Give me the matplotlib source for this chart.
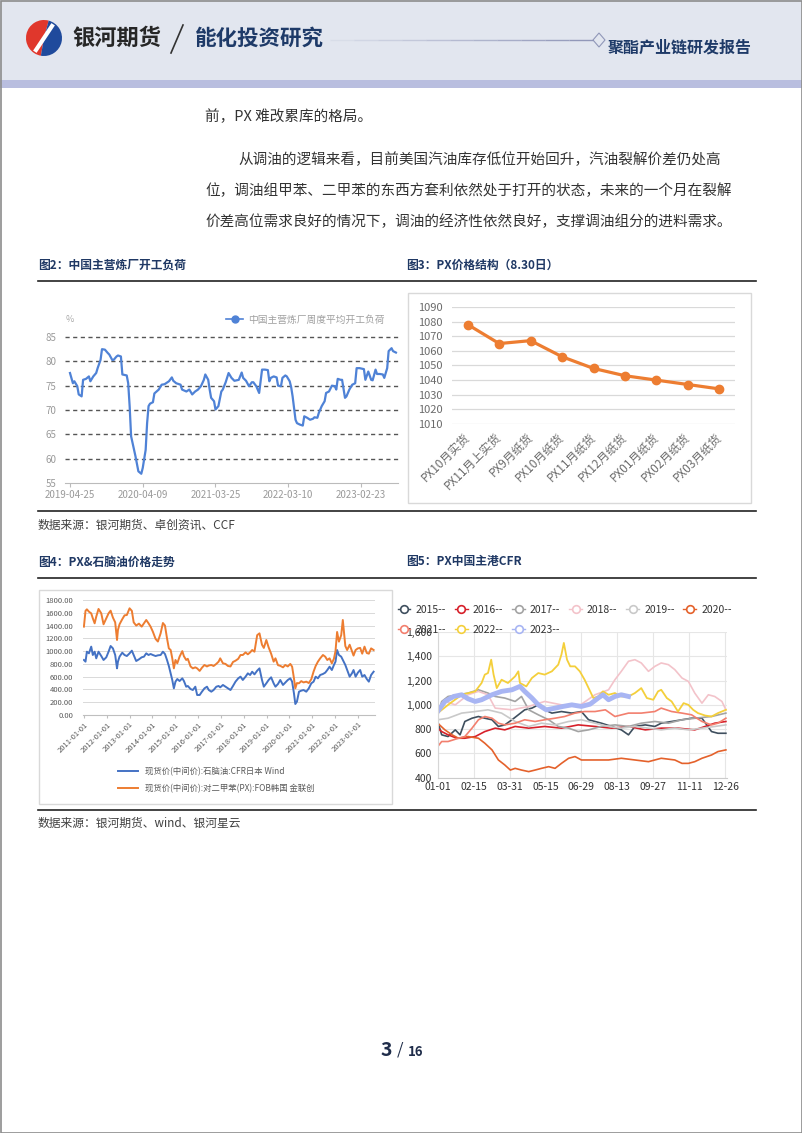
import numpy as np
import pandas as pd
import matplotlib
matplotlib.use("Agg")
import matplotlib.pyplot as plt
from matplotlib.patches import Rectangle, Wedge, Polygon
from matplotlib.lines import Line2D

plt.rcParams['font.family'] = ['Noto Sans CJK SC', 'DejaVu Sans']

W, H = 802, 1133

# 图2 中国主营炼厂开工负荷 (周度, 从2019-04-25起的周数)
run_weeks = [0, 2, 3, 5, 6, 8, 9, 11, 13, 14, 16, 18, 19, 21, 22, 24, 26, 27, 29, 30,
             32, 33, 35, 36, 39, 40, 41, 42, 45, 47, 49, 50, 52, 53, 54, 55, 57, 58, 61, 63,
             65, 68, 70, 71, 73, 76, 77, 80, 82, 84, 86, 88, 90, 92, 93, 95, 96, 97, 99, 100,
             102, 104, 105, 107, 109, 111, 113, 116, 118, 119, 121, 123, 125, 126, 128, 130, 132, 134, 136, 137,
             138, 140, 142, 143, 145, 146, 148, 149, 151, 152, 153, 155, 156, 158, 160, 161, 163, 165, 167, 168,
             170, 171, 173, 175, 176, 178, 180, 182, 183, 184, 186, 187, 189, 190, 192, 194, 196, 197, 199, 202,
             203, 205, 207, 208, 210, 211, 213, 215, 216, 218, 219, 221, 222, 224]
run_rate = [77.6, 75.5, 75.9, 74.9, 73.2, 72.8, 76.2, 76.4, 76.9, 75.9, 76.9, 77.6, 78.6, 80.3, 82.5, 82.4, 81.7, 81.4, 80.3, 80.3,
            81.0, 81.2, 81.0, 77.3, 77.1, 75.5, 70.8, 64.6, 60.5, 57.4, 56.9, 58.1, 61.8, 67.3, 70.8, 71.3, 71.6, 73.4, 74.2, 75.2,
            75.3, 75.9, 76.7, 76.0, 75.5, 75.2, 74.2, 73.8, 74.2, 73.2, 73.8, 74.2, 74.9, 76.2, 77.3, 76.2, 74.2, 72.5, 71.8, 70.1,
            70.8, 73.8, 74.2, 75.7, 77.6, 76.6, 76.0, 76.2, 77.7, 76.6, 76.0, 74.9, 75.7, 75.7, 74.9, 73.5, 78.3, 78.3, 78.2, 75.9,
            76.6, 76.9, 76.7, 75.0, 74.9, 76.6, 77.1, 76.9, 75.9, 74.7, 72.8, 68.0, 67.3, 67.0, 66.8, 68.7, 68.4, 68.0, 68.2, 68.5,
            68.4, 69.4, 70.8, 71.8, 73.5, 73.8, 75.0, 74.9, 74.2, 76.4, 76.2, 76.2, 72.5, 72.8, 74.2, 75.2, 75.5, 78.6, 78.6, 78.4,
            76.2, 77.9, 76.2, 76.1, 78.3, 77.4, 77.4, 77.3, 76.6, 78.6, 82.1, 82.7, 82.1, 81.8]
run_ticks = ['2019-04-25', '2020-04-09', '2021-03-25', '2022-03-10', '2023-02-23']

# 图3 PX价格结构
px_labels = ['PX10月实货', 'PX11月上实货', 'PX9月纸货', 'PX10月纸货', 'PX11月纸货',
             'PX12月纸货', 'PX01月纸货', 'PX02月纸货', 'PX03月纸货']
px_prices = [1078, 1065, 1067, 1056, 1048, 1043, 1040, 1037, 1034]

# 图4 PX&石脑油价格走势
years4 = [2011.00, 2011.07, 2011.13, 2011.22, 2011.32, 2011.39, 2011.47, 2011.54, 2011.64, 2011.76,
          2011.86, 2011.98, 2012.08, 2012.17, 2012.27, 2012.37, 2012.45, 2012.49, 2012.56, 2012.68,
          2012.78, 2012.88, 2013.00, 2013.10, 2013.18, 2013.29, 2013.41, 2013.53, 2013.63, 2013.73,
          2013.83, 2013.92, 2014.02, 2014.14, 2014.24, 2014.36, 2014.46, 2014.55, 2014.64, 2014.72,
          2014.80, 2014.87, 2014.94, 2015.01, 2015.09, 2015.19, 2015.31, 2015.38, 2015.48, 2015.55,
          2015.67, 2015.77, 2015.88, 2015.96, 2016.07, 2016.17, 2016.28, 2016.39, 2016.47, 2016.58,
          2016.68, 2016.80, 2016.90, 2016.97, 2017.09, 2017.20, 2017.31, 2017.42, 2017.53, 2017.64,
          2017.76, 2017.86, 2017.96, 2018.08, 2018.18, 2018.28, 2018.37, 2018.47, 2018.59, 2018.69,
          2018.80, 2018.88, 2018.99, 2019.09, 2019.20, 2019.31, 2019.39, 2019.50, 2019.60, 2019.72,
          2019.82, 2019.93, 2020.04, 2020.12, 2020.20, 2020.26, 2020.33, 2020.42, 2020.52, 2020.62,
          2020.74, 2020.85, 2020.96, 2021.06, 2021.15, 2021.25, 2021.35, 2021.47, 2021.57, 2021.66,
          2021.76, 2021.86, 2021.95, 2022.02, 2022.09, 2022.17, 2022.27, 2022.34, 2022.45, 2022.53,
          2022.64, 2022.74, 2022.81, 2022.90, 2023.00, 2023.10, 2023.19, 2023.29, 2023.39, 2023.48,
          2023.58, 2023.69]
naphtha = [861, 835, 991, 965, 1070, 939, 991, 887, 991, 923, 861, 903, 991, 1080, 1043, 939, 730, 835, 913, 975,
           939, 923, 965, 1007, 939, 845, 871, 903, 913, 965, 939, 955, 939, 923, 934, 939, 991, 955, 861, 767,
           652, 548, 417, 522, 563, 532, 574, 532, 443, 454, 407, 391, 443, 313, 313, 365, 417, 443, 391, 365,
           391, 443, 454, 433, 470, 443, 417, 391, 454, 522, 574, 600, 548, 600, 652, 626, 678, 636, 694, 730,
           548, 443, 496, 548, 590, 496, 443, 485, 548, 470, 506, 548, 574, 522, 339, 172, 209, 365, 381, 391,
           365, 417, 496, 522, 600, 574, 626, 642, 663, 704, 756, 704, 783, 835, 1017, 939, 913, 861, 783, 704,
           600, 652, 704, 600, 663, 704, 600, 626, 563, 522, 626, 678]
px_fob = [1383, 1630, 1654, 1617, 1591, 1513, 1435, 1539, 1660, 1591, 1420, 1513, 1591, 1633, 1525, 1450, 1174, 1330, 1420, 1500,
          1560, 1565, 1670, 1630, 1450, 1400, 1430, 1383, 1435, 1487, 1435, 1383, 1304, 1190, 1150, 1278, 1440, 1400, 1200, 1043,
          1017, 887, 730, 861, 809, 913, 1000, 920, 861, 880, 760, 730, 746, 730, 690, 740, 783, 760, 775, 783,
          767, 800, 835, 887, 809, 800, 767, 760, 830, 850, 880, 939, 939, 980, 950, 980, 1017, 991, 1250, 1278,
          1100, 1050, 1174, 1060, 960, 835, 887, 780, 770, 746, 783, 760, 800, 756, 574, 417, 500, 496, 530, 510,
          522, 500, 560, 680, 767, 835, 887, 939, 913, 861, 887, 809, 880, 1000, 1300, 1148, 1250, 1487, 1080, 1017,
          1100, 1000, 930, 1017, 1043, 1050, 960, 1070, 970, 960, 1043, 1017]

# 图5 PX中国主港CFR (x = 一年中的第几天)
d2015 = [0, 5, 13, 22, 28, 34, 43, 51, 59, 68, 76, 84, 93, 101, 109, 118, 126, 134, 143, 155,
         168, 180, 189, 197, 205, 218, 230, 239, 247, 260, 272, 280, 293, 306, 318, 331, 343, 351, 361]
v2015 = [863, 753, 739, 794, 753, 863, 890, 904, 890, 877, 822, 835, 877, 918, 959, 973, 1000, 959, 932, 945,
         932, 945, 877, 863, 849, 822, 794, 753, 822, 835, 822, 849, 863, 877, 890, 890, 780, 766, 766]
d2016 = [0, 5, 13, 24, 34, 47, 59, 72, 84, 97, 114, 134, 155, 176, 197, 218, 239, 260, 280, 301, 322, 335, 347, 361]
v2016 = [808, 780, 753, 725, 725, 739, 780, 808, 794, 822, 808, 822, 808, 835, 822, 808, 822, 794, 808, 808, 794, 822, 849, 863]
d2017 = [0, 5, 13, 26, 38, 51, 63, 72, 84, 97, 105, 114, 126, 139, 151, 164, 176, 189, 205, 222,
         239, 255, 272, 289, 306, 322, 343, 361]
v2017 = [918, 1028, 1069, 1083, 1097, 1124, 1097, 1069, 1056, 1028, 1069, 959, 918, 877, 822, 808, 780, 794, 822, 835,
         822, 849, 863, 849, 877, 890, 904, 932]
d2018 = [0, 9, 22, 38, 51, 63, 72, 93, 114, 134, 155, 176, 197, 214, 222, 230, 239, 247, 255, 264,
         272, 280, 289, 297, 306, 314, 322, 331, 339, 347, 356, 361]
v2018 = [932, 1028, 1000, 1083, 1111, 1083, 973, 959, 987, 1028, 1000, 987, 1083, 1124, 1207, 1276, 1359, 1372, 1345, 1276,
         1317, 1345, 1331, 1290, 1221, 1193, 1097, 1014, 1083, 1069, 1028, 959]
d2019 = [0, 13, 30, 47, 63, 80, 97, 114, 130, 147, 164, 180, 197, 214, 230, 247, 264, 280, 297, 314, 331, 347, 361]
v2019 = [877, 890, 932, 945, 959, 932, 863, 822, 849, 835, 863, 877, 849, 822, 808, 822, 808, 794, 808, 794, 808, 822, 835]
d2020 = [0, 9, 18, 26, 38, 51, 59, 68, 76, 84, 91, 97, 105, 114, 122, 130, 139, 147, 155, 164,
         172, 180, 197, 214, 230, 247, 264, 280, 297, 306, 314, 322, 331, 343, 351, 361]
v2020 = [849, 794, 753, 725, 739, 725, 684, 629, 546, 505, 463, 477, 463, 450, 463, 477, 491, 477, 518, 560,
         574, 546, 546, 546, 560, 546, 532, 560, 546, 518, 518, 532, 560, 587, 615, 629]
d2021 = [0, 5, 13, 26, 34, 43, 51, 59, 68, 76, 84, 97, 109, 122, 134, 147, 159, 172, 184, 197,
         210, 222, 239, 255, 272, 280, 293, 306, 318, 331, 343, 351, 361]
v2021 = [656, 698, 698, 725, 739, 808, 877, 904, 890, 849, 835, 849, 877, 863, 877, 890, 904, 932, 945, 945,
         959, 904, 932, 932, 945, 973, 945, 932, 918, 863, 835, 849, 890]
d2022 = [0, 13, 30, 47, 55, 59, 63, 67, 70, 74, 80, 88, 97, 101, 103, 111, 118, 126, 134, 143,
         151, 155, 158, 162, 166, 172, 178, 184, 191, 195, 201, 207, 214, 222, 230, 239, 247, 255, 262, 270,
         276, 280, 287, 293, 301, 308, 314, 320, 326, 335, 343, 351, 361]
v2022 = [932, 1000, 1083, 1111, 1180, 1249, 1262, 1372, 1249, 1138, 1207, 1180, 1235, 1276, 1180, 1152, 1221, 1262, 1249, 1276,
         1331, 1414, 1510, 1372, 1317, 1317, 1276, 1207, 1111, 1056, 1069, 1111, 1083, 1097, 1069, 1069, 1097, 1138, 1056, 1042,
         1111, 1124, 1056, 1028, 945, 1014, 1000, 959, 932, 912, 904, 932, 959]
d2023 = [0, 9, 20, 30, 38, 47, 55, 68, 80, 93, 103, 109, 118, 126, 136, 147, 157, 168, 180, 191,
         201, 207, 214, 222, 230, 239]
v2023 = [945, 1028, 1069, 1083, 1050, 1028, 1042, 1083, 1111, 1124, 1152, 1111, 1056, 1000, 959, 973, 987, 1000, 987, 1006,
         1056, 1083, 1042, 1069, 1083, 1069]
cfr_ticks = ['01-01', '02-15', '03-31', '05-15', '06-29', '08-13', '09-27', '11-11', '12-26']


def rect(x0, y0, x1, y1):
    return [x0 / W, 1 - y1 / H, (x1 - x0) / W, (y1 - y0) / H]


fig = plt.figure(figsize=(W / 100, H / 100), dpi=100)
page = fig.add_axes([0, 0, 1, 1])
page.set_xlim(0, W)
page.set_ylim(H, 0)
page.axis('off')

# 页眉
page.add_patch(Rectangle((0, 0), W, 80, color='#e2e6ef', lw=0))
page.add_patch(Rectangle((0, 80), W, 8, color='#b9bedf', lw=0))
page.add_patch(Rectangle((0.5, 0.5), W - 1, H - 1, fill=False, ec='#8c8c8c', lw=1.2))
page.add_patch(Wedge((44, 38), 18, 100, 285, color='#e0372c', lw=0))
page.add_patch(Wedge((44, 38), 18, 285, 460, color='#1f4a9c', lw=0))
page.plot([36, 44, 52], [50, 38, 26], color='white', lw=3)
page.text(72, 38, '银河期货', fontsize=16, fontweight='bold', color='#262626', va='center')
page.plot([171, 183], [53, 25], color='#333333', lw=1.2)
page.text(195, 38, '能化投资研究', fontsize=15.5, fontweight='bold', color='#1e3a68', va='center')
xs = np.linspace(330, 593, 12)
for i in range(len(xs) - 1):
    page.plot(xs[i:i + 2], [40, 40], color='#8990b4', lw=1, alpha=0.1 + 0.08 * i, solid_capstyle='butt')
page.add_patch(Polygon([(599, 33), (605, 40), (599, 47), (593, 40)], fill=False, ec='#9097b8', lw=0.8))
page.text(608, 48, '聚酯产业链研发报告', fontsize=11.5, fontweight='bold', color='#1e3a68', va='center')

# 正文
body = dict(fontsize=10.5, color='#333333', va='center')
page.text(205, 117, '前，PX 难改累库的格局。', **body)
page.text(238, 160, '从调油的逻辑来看，目前美国汽油库存低位开始回升，汽油裂解价差仍处高', **body)
page.text(205, 191, '位，调油组甲苯、二甲苯的东西方套利依然处于打开的状态，未来的一个月在裂解', **body)
page.text(205, 222, '价差高位需求良好的情况下，调油的经济性依然良好，支撑调油组分的进料需求。', **body)

title = dict(fontsize=8.5, fontweight='bold', color='#1f3864', va='center')
page.text(38, 265, '图2：中国主营炼厂开工负荷', **title)
page.text(406, 265, '图3：PX价格结构（8.30日）', **title)
page.text(38, 562, '图4：PX&石脑油价格走势', **title)
page.text(406, 562, '图5：PX中国主港CFR', **title)
for y in [281, 511, 578, 810]:
    page.plot([38, 756], [y, y], color='#222222', lw=1.2)
src = dict(fontsize=8.5, color='#404040', va='center')
page.text(38, 525, '数据来源：银河期货、卓创资讯、CCF', **src)
page.text(38, 823, '数据来源：银河期货、wind、银河星云', **src)

page.text(392, 1050, '3', fontsize=14, fontweight='bold', color='#1f2d4a', ha='right', va='center')
page.text(400, 1050, '/', fontsize=12, color='#1f2d4a', ha='center', va='center')
page.text(408, 1052, '16', fontsize=9.5, fontweight='bold', color='#1f2d4a', ha='left', va='center')

# 图2
ax2 = fig.add_axes(rect(65, 337, 398, 483))
start = pd.Timestamp('2019-04-25')
dates2 = start + pd.to_timedelta(np.array(run_weeks) * 7, unit='D')
ax2.plot(dates2, run_rate, color='#4f82d6', lw=1.6)
ax2.set_ylim(55, 85)
ax2.set_xlim(start - pd.Timedelta(days=24), start + pd.Timedelta(days=1578))
for v in [60, 65, 70, 75, 80, 85]:
    ax2.axhline(v, color='#555555', lw=1, ls=(0, (3, 2.5)), clip_on=False, zorder=0)
ax2.set_yticks([55, 60, 65, 70, 75, 80, 85])
ax2.set_xticks(pd.to_datetime(run_ticks), labels=run_ticks)
for s in ['top', 'right', 'left']:
    ax2.spines[s].set_visible(False)
ax2.spines['bottom'].set_color('#bbbbbb')
ax2.tick_params(axis='y', length=0, pad=6, labelsize=7, labelcolor='#9a9a9a')
ax2.tick_params(axis='x', length=3, color='#bbbbbb', pad=2, labelsize=7, labelcolor='#9a9a9a')
ax2.patch.set_alpha(0)
page.text(66, 320, '%', fontsize=6.5, color='#aaaaaa', va='center')
h2 = Line2D([], [], color='#4f82d6', lw=1.2, marker='o', ms=5)
ax2.legend([h2], ['中国主营炼厂周度平均开工负荷'], loc='center right', bbox_to_anchor=(0.96, 1.12),
           frameon=False, fontsize=7, labelcolor='#a0a0a0', handlelength=1.8, handletextpad=0.5,
           borderpad=0, borderaxespad=0)

# 图3
page.add_patch(Rectangle((408, 293), 343, 210, fill=False, ec='#d9d9d9', lw=1))
ax3 = fig.add_axes(rect(452, 307, 735, 424))
x3 = np.arange(len(px_labels))
ax3.plot(x3, px_prices, color='#ed7d31', lw=2.3, marker='o', ms=6, zorder=3)
ax3.set_xlim(-0.5, len(px_labels) - 0.5)
ax3.set_ylim(1010, 1090)
ax3.set_yticks(range(1010, 1091, 10))
ax3.set_xticks(x3, labels=px_labels, rotation=45, ha='right', va='center', rotation_mode='anchor')
ax3.grid(axis='y', color='#d9d9d9', lw=0.9)
for s in ax3.spines.values():
    s.set_visible(False)
ax3.tick_params(length=0, labelsize=8.5, labelcolor='#6b6b6b')
ax3.tick_params(axis='y', pad=7, labelsize=8)
ax3.tick_params(axis='x', pad=8)

# 图4
page.add_patch(Rectangle((39, 590), 353, 214, fill=False, ec='#d9d9d9', lw=1))
ax4 = fig.add_axes(rect(83, 600, 375, 715))
ax4.plot(years4, naphtha, color='#4472c4', lw=1.4, label='现货价(中间价):石脑油:CFR日本 Wind')
ax4.plot(years4, px_fob, color='#ed7d31', lw=1.4, label='现货价(中间价):对二甲苯(PX):FOB韩国 金联创')
ax4.set_ylim(0, 1800)
ax4.set_xlim(2010.96, 2023.75)
yt4 = list(range(0, 1801, 200))
ax4.set_yticks(yt4, labels=['%.2f' % v for v in yt4])
yr4 = list(range(2011, 2024))
ax4.set_xticks(yr4, labels=['%d-01-01' % y for y in yr4], rotation=45, ha='right', va='top',
               rotation_mode='anchor')
ax4.grid(axis='y', color='#d9d9d9', lw=0.7)
for s in ['top', 'right', 'left']:
    ax4.spines[s].set_visible(False)
ax4.spines['bottom'].set_color('#bfbfbf')
ax4.tick_params(axis='y', length=0, pad=7, labelsize=5.5, labelcolor='#595959')
ax4.tick_params(axis='x', length=2, color='#bfbfbf', pad=2, labelsize=5.5, labelcolor='#595959')
ax4.legend(loc='upper left', bbox_to_anchor=((118 - 83) / 292, -0.45), frameon=False, fontsize=6,
           labelcolor='#595959', handlelength=2.4, labelspacing=0.95, borderpad=0, borderaxespad=0)

# 图5
ax5 = fig.add_axes(rect(437.7, 632, 726.7, 777.7))
cfr = [(d2015, v2015, '2015--', '#3f4f5e', 1.2), (d2016, v2016, '2016--', '#d7202a', 1.2),
       (d2017, v2017, '2017--', '#a3a3a3', 1.2), (d2018, v2018, '2018--', '#f3c3ca', 1.2),
       (d2019, v2019, '2019--', '#c9c9c9', 1.2), (d2020, v2020, '2020--', '#e4612b', 1.2),
       (d2021, v2021, '2021--', '#f27f6e', 1.2), (d2022, v2022, '2022--', '#f4cf3b', 1.3),
       (d2023, v2023, '2023--', '#a8b5f3', 3.5)]
handles = []
for d, v, name, c, lw in cfr:
    ax5.plot(d, v, color=c, lw=lw)
    handles.append(Line2D([], [], color=c, lw=1, marker='o', ms=5.5, mfc='white', mec=c, mew=1.2))
ax5.set_xlim(0, 362)
ax5.set_ylim(400, 1600)
yt5 = list(range(400, 1601, 200))
ax5.set_yticks(yt5, labels=['{:,}'.format(v) for v in yt5])
ax5.set_xticks([45 * i for i in range(len(cfr_ticks))], labels=cfr_ticks)
ax5.grid(color='#e6e6e6', lw=0.8)
ax5.set_axisbelow(True)
for s in ['top', 'right']:
    ax5.spines[s].set_visible(False)
ax5.spines['left'].set_color('#d6d6d6')
ax5.spines['bottom'].set_color('#cccccc')
ax5.tick_params(length=0, labelsize=7.5, labelcolor='#333333')
ax5.tick_params(axis='y', pad=4)
ax5.tick_params(axis='x', pad=3)
order = [0, 6, 1, 7, 2, 8, 3, 4, 5]
ax5.legend([handles[i] for i in order], [cfr[i][2] for i in order], ncol=6, loc='upper left',
           bbox_to_anchor=((398 - 437.7) / 289, (777.7 - 605) / 145.7), frameon=False, fontsize=7.5,
           labelcolor='#333333', handlelength=1.2, handletextpad=0.5, columnspacing=0.85,
           labelspacing=0.95, borderpad=0, borderaxespad=0)

fig.savefig('out.png', dpi=100)
